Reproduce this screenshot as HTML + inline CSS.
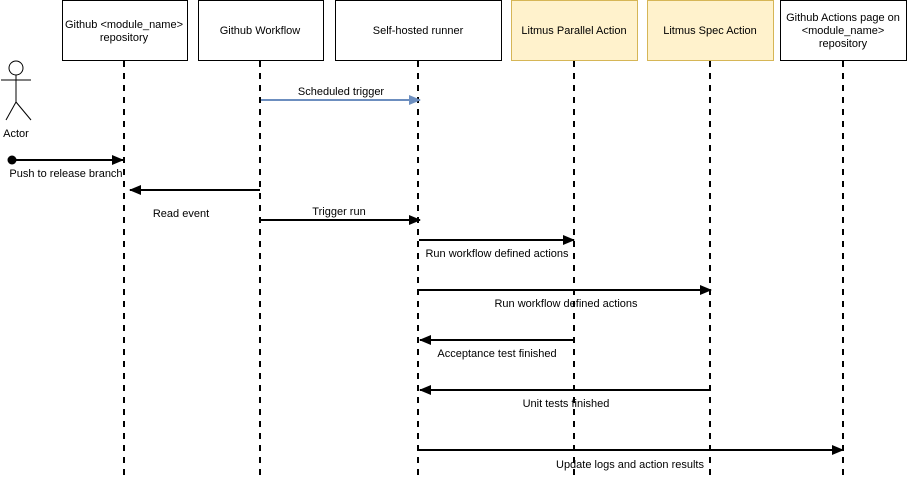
<!DOCTYPE html>
<html><head><meta charset="utf-8"><style>
html,body{margin:0;padding:0;background:#fff;}
svg{display:block;}
text{font-family:"Liberation Sans",Helvetica,Arial,sans-serif;font-size:11px;fill:#000;}
</style></head><body>
<svg width="907" height="483" viewBox="0 0 907 483" xmlns="http://www.w3.org/2000/svg">
<defs>
<marker id="ab" viewBox="0 0 12 10" refX="11" refY="5" markerWidth="12" markerHeight="10" markerUnits="userSpaceOnUse" orient="auto"><path d="M0,0 L12,5 L0,10 Z" fill="#000"/></marker>
<marker id="abl" viewBox="0 0 12 10" refX="11" refY="5" markerWidth="12" markerHeight="10" markerUnits="userSpaceOnUse" orient="auto"><path d="M0,0 L12,5 L0,10 Z" fill="#6c8ebf"/></marker>
</defs>
<g stroke="#000" stroke-width="2" stroke-dasharray="6 6">
<line x1="124" y1="61" x2="124" y2="476"/>
<line x1="260" y1="61" x2="260" y2="476"/>
<line x1="418" y1="61" x2="418" y2="476"/>
<line x1="574" y1="61" x2="574" y2="476"/>
<line x1="710" y1="61" x2="710" y2="476"/>
<line x1="843" y1="61" x2="843" y2="476"/>
</g>
<g stroke-width="1">
<rect x="62.5" y="0.5" width="125" height="60" fill="#fff" stroke="#000"/>
<rect x="198.5" y="0.5" width="125" height="60" fill="#fff" stroke="#000"/>
<rect x="335.5" y="0.5" width="166" height="60" fill="#fff" stroke="#000"/>
<rect x="511.5" y="0.5" width="126" height="60" fill="#fff2cc" stroke="#d6b656"/>
<rect x="647.5" y="0.5" width="126" height="60" fill="#fff2cc" stroke="#d6b656"/>
<rect x="780.5" y="0.5" width="126" height="60" fill="#fff" stroke="#000"/>
</g>
<g text-anchor="middle">
<text x="124" y="28">Github &lt;module_name&gt;</text>
<text x="124" y="41">repository</text>
<text x="260" y="34">Github Workflow</text>
<text x="418" y="34">Self-hosted runner</text>
<text x="574" y="34">Litmus Parallel Action</text>
<text x="710" y="34">Litmus Spec Action</text>
<text x="843" y="21">Github Actions page on</text>
<text x="843" y="34">&lt;module_name&gt;</text>
<text x="843" y="47">repository</text>
</g>
<g stroke="#000" stroke-width="1" fill="none">
<circle cx="16" cy="68" r="7" fill="#fff"/>
<line x1="16" y1="75" x2="16" y2="102"/>
<line x1="1" y1="80" x2="31" y2="80"/>
<line x1="16" y1="102" x2="6" y2="120"/>
<line x1="16" y1="102" x2="31" y2="120"/>
</g>
<text x="16" y="137" text-anchor="middle">Actor</text>
<line x1="261" y1="100" x2="420" y2="100" stroke="#6c8ebf" stroke-width="2" marker-end="url(#abl)"/>
<text x="341" y="95" text-anchor="middle">Scheduled trigger</text>
<circle cx="12" cy="160" r="4.5" fill="#000"/>
<g stroke="#000" stroke-width="2">
<line x1="12" y1="160" x2="123" y2="160" marker-end="url(#ab)"/>
<line x1="260" y1="190" x2="130" y2="190" marker-end="url(#ab)"/>
<line x1="261" y1="220" x2="420" y2="220" marker-end="url(#ab)"/>
<line x1="419" y1="240" x2="574" y2="240" marker-end="url(#ab)"/>
<line x1="419" y1="290" x2="711" y2="290" marker-end="url(#ab)"/>
<line x1="573" y1="340" x2="420" y2="340" marker-end="url(#ab)"/>
<line x1="710" y1="390" x2="420" y2="390" marker-end="url(#ab)"/>
<line x1="419" y1="450" x2="843" y2="450" marker-end="url(#ab)"/>
</g>
<text x="66" y="177" text-anchor="middle">Push to release branch</text>
<text x="181" y="217" text-anchor="middle">Read event</text>
<text x="339" y="215" text-anchor="middle">Trigger run</text>
<text x="497" y="257" text-anchor="middle">Run workflow defined actions</text>
<text x="566" y="307" text-anchor="middle">Run workflow defined actions</text>
<text x="497" y="357" text-anchor="middle">Acceptance test finished</text>
<text x="566" y="407" text-anchor="middle">Unit tests finished</text>
<text x="630" y="468" text-anchor="middle">Update logs and action results</text>
</svg>
</body></html>
